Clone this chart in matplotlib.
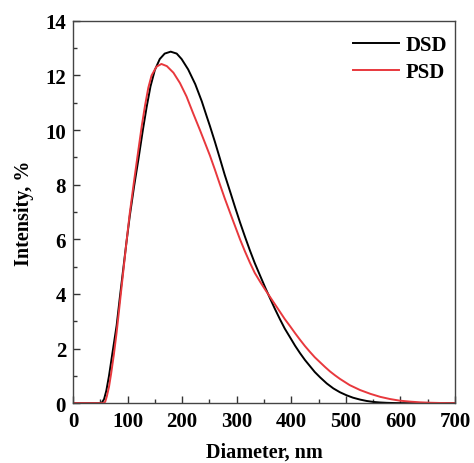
import numpy as np
import matplotlib
matplotlib.use('Agg')
import matplotlib.pyplot as plt
from matplotlib.ticker import MultipleLocator

plt.rcParams['font.family'] = ['Liberation Serif', 'DejaVu Serif']
plt.rcParams['font.weight'] = 'bold'

# DSD curve
dsd_x = [0, 50, 53, 57, 61, 66, 72, 80, 86, 92, 98, 104, 112, 120, 128, 135,
         142, 150, 159, 168, 179, 190, 199, 211, 224, 236, 245, 251, 260, 269,
         278, 288, 297, 306, 315, 324, 333, 343, 352, 361, 370, 379, 388, 398,
         407, 416, 425, 434, 443, 453, 465, 477, 489, 501, 513, 526, 538, 550,
         562, 575, 587, 600, 700]
dsd_y = [0, 0, 0.02, 0.15, 0.45, 1.0, 1.8, 2.85, 3.9, 4.9, 5.9, 6.85, 7.95,
         8.95, 10.0, 10.85, 11.6, 12.2, 12.6, 12.8, 12.87, 12.8, 12.6, 12.22,
         11.68, 11.05, 10.5, 10.14, 9.57, 8.97, 8.36, 7.74, 7.17, 6.62, 6.1,
         5.6, 5.13, 4.66, 4.24, 3.84, 3.45, 3.08, 2.73, 2.4, 2.1, 1.83, 1.58,
         1.36, 1.14, 0.94, 0.72, 0.54, 0.4, 0.29, 0.2, 0.13, 0.08, 0.045, 0.025,
         0.012, 0.005, 0, 0]

# PSD curve
psd_x = [0, 56, 59, 62, 66, 70, 75, 80, 86, 92, 98, 104, 112, 120, 126, 132,
         138, 144, 153, 162, 172, 184, 196, 208, 220, 233, 242, 251, 260, 269,
         278, 288, 297, 306, 315, 324, 333, 343, 352, 361, 370, 379, 388, 398,
         407, 416, 425, 434, 443, 453, 462, 471, 480, 489, 507, 526, 545, 563,
         581, 599, 618, 636, 654, 672, 700]
psd_y = [0, 0, 0.05, 0.25, 0.6, 1.1, 1.8, 2.6, 3.7, 4.8, 5.9, 6.95, 8.15, 9.3,
         10.15, 10.9, 11.55, 12.0, 12.32, 12.42, 12.34, 12.1, 11.72, 11.23,
         10.62, 9.98, 9.52, 9.06, 8.55, 8.02, 7.5, 6.96, 6.48, 6.0, 5.56, 5.15,
         4.77, 4.44, 4.16, 3.89, 3.62, 3.35, 3.08, 2.81, 2.56, 2.32, 2.09, 1.88,
         1.68, 1.49, 1.32, 1.16, 1.02, 0.89, 0.66, 0.48, 0.34, 0.23, 0.15, 0.09,
         0.055, 0.03, 0.015, 0.006, 0]

fig = plt.figure(figsize=(4.74, 4.64), dpi=100)
ax = fig.add_axes([0.154, 0.129, 0.806, 0.824])

ax.plot(dsd_x, dsd_y, color='black', linewidth=1.4, label='DSD')
ax.plot(psd_x, psd_y, color='#e8383d', linewidth=1.4, label='PSD')

ax.set_xlim(0, 700)
ax.set_ylim(0, 14)
ax.xaxis.set_major_locator(MultipleLocator(100))
ax.xaxis.set_minor_locator(MultipleLocator(50))
ax.yaxis.set_major_locator(MultipleLocator(2))
ax.yaxis.set_minor_locator(MultipleLocator(1))
ax.tick_params(which='both', direction='in', top=False, right=False,
               labelsize=15, width=1, colors='#333333', labelcolor='black')
ax.tick_params(axis='x', which='major', length=5, pad=6)
ax.tick_params(axis='y', which='major', length=5, pad=5)
ax.tick_params(which='minor', length=3)
for s in ax.spines.values():
    s.set_color('#444444')
    s.set_linewidth(1.0)

ax.set_xlabel('Diameter, nm', fontsize=14.5, fontweight='bold', labelpad=7)
ax.set_ylabel('Intensity, %', fontsize=14.5, fontweight='bold', labelpad=8)

leg = ax.legend(loc='upper right', bbox_to_anchor=(1.0, 0.985), frameon=False,
                fontsize=15, handlelength=2.2, handletextpad=0.3,
                labelspacing=0.35, borderaxespad=0.0)
for t in leg.get_texts():
    t.set_fontweight('bold')

fig.savefig('out.png', dpi=100)
